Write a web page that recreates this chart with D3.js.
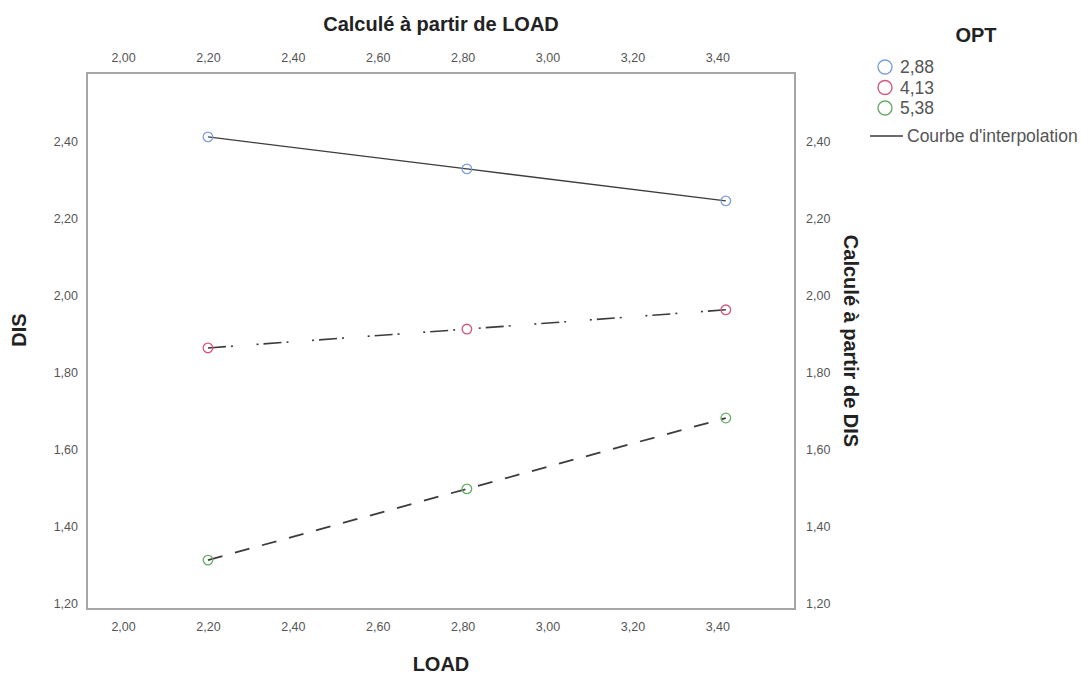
<!DOCTYPE html>
<html lang="en">
<head>
<meta charset="utf-8">
<title>DIS vs LOAD</title>
<script src="https://d3js.org/d3.v7.min.js"></script>
<style>
  body { margin: 0; background: #fff; }
  text { font-family: Arial, "Liberation Sans", sans-serif; }
  .tick text { font-size: 12.5px; fill: #555; font-family: Arial, "Liberation Sans", sans-serif; }
  .title { font-size: 20px; font-weight: bold; fill: #222; }
  .leg { font-size: 17.5px; fill: #555; }
</style>
</head>
<body>
<script>
// data
var loadValues = [2.20, 2.81, 3.42];
var optGroups = ["2,88", "4,13", "5,38"];
var disBlue = [2.413, 2.330, 2.247];
var disRed = [1.865, 1.914, 1.964];
var disGreen = [1.314, 1.499, 1.683];
var xTicks = [2.0, 2.2, 2.4, 2.6, 2.8, 3.0, 3.2, 3.4];
var yTicks = [1.2, 1.4, 1.6, 1.8, 2.0, 2.2, 2.4];

var series = [
  {name: optGroups[0], values: disBlue, color: "#7d9fdc", dash: null, sw: 1.4},
  {name: optGroups[1], values: disRed, color: "#d6567b", dash: "18,5,2,23.7,2,5", sw: 1.6},
  {name: optGroups[2], values: disGreen, color: "#66ad66", dash: "15,13", sw: 1.8}
];

var width = 1081, height = 675;
var pLeft = 87, pRight = 795, pTop = 73, pBottom = 609;

var svg = d3.select("body").append("svg")
  .attr("width", width).attr("height", height);

var x = d3.scaleLinear().domain([1.915, 3.583]).range([pLeft, pRight]);
var y = d3.scaleLinear().domain([1.187, 2.579]).range([pBottom, pTop]);

var fmt = function(d) { return d3.format(".2f")(d).replace(".", ","); };

function axisStyle(g) {
  g.select(".domain").remove();
  g.selectAll(".tick line").remove();
}

svg.append("g").attr("transform", "translate(0," + (pBottom + 10) + ")")
  .call(d3.axisBottom(x).tickValues(xTicks).tickFormat(fmt).tickSize(0))
  .call(axisStyle);
svg.append("g").attr("transform", "translate(0," + (pTop - 8) + ")")
  .call(d3.axisTop(x).tickValues(xTicks).tickFormat(fmt).tickSize(0))
  .call(axisStyle);
svg.append("g").attr("transform", "translate(" + (pLeft - 6) + ",0)")
  .call(d3.axisLeft(y).tickValues(yTicks).tickFormat(fmt).tickSize(0))
  .call(axisStyle);
svg.append("g").attr("transform", "translate(" + (pRight + 8) + ",0)")
  .call(d3.axisRight(y).tickValues(yTicks).tickFormat(fmt).tickSize(0))
  .call(axisStyle);

// frame
svg.append("rect")
  .attr("x", pLeft).attr("y", pTop)
  .attr("width", pRight - pLeft).attr("height", pBottom - pTop)
  .attr("fill", "none").attr("stroke", "#a6a6a6").attr("stroke-width", 2);

// lines
var line = d3.line()
  .x(function(d, i) { return x(loadValues[i]); })
  .y(function(d) { return y(d); });

series.forEach(function(s) {
  svg.append("path")
    .attr("d", line(s.values))
    .attr("fill", "none")
    .attr("stroke", "#3c3c3c")
    .attr("stroke-width", s.sw)
    .attr("stroke-dasharray", s.dash);
  svg.selectAll(null).data(s.values).enter().append("circle")
    .attr("cx", function(d, i) { return x(loadValues[i]); })
    .attr("cy", function(d) { return y(d); })
    .attr("r", 4.8)
    .attr("fill", "none")
    .attr("stroke", s.color)
    .attr("stroke-width", 1.3);
});

// axis titles
svg.append("text").attr("class", "title")
  .attr("x", 441).attr("y", 31).attr("text-anchor", "middle")
  .text("Calculé à partir de LOAD");
svg.append("text").attr("class", "title")
  .attr("x", 441).attr("y", 671).attr("text-anchor", "middle")
  .text("LOAD");
svg.append("text").attr("class", "title")
  .attr("transform", "translate(26,330) rotate(-90)")
  .attr("text-anchor", "middle")
  .text("DIS");
svg.append("text").attr("class", "title")
  .attr("transform", "translate(844,341) rotate(90)")
  .attr("text-anchor", "middle")
  .text("Calculé à partir de DIS");

// legend
var lg = svg.append("g");
lg.append("text").attr("class", "title")
  .attr("x", 976).attr("y", 42).attr("text-anchor", "middle")
  .text("OPT");
series.forEach(function(s, i) {
  var cy = 67 + i * 20.5;
  lg.append("circle").attr("cx", 885).attr("cy", cy).attr("r", 7)
    .attr("fill", "none").attr("stroke", s.color).attr("stroke-width", 1.4);
  lg.append("text").attr("class", "leg").attr("x", 900).attr("y", cy + 6)
    .text(s.name);
});
lg.append("line").attr("x1", 870).attr("x2", 903).attr("y1", 136).attr("y2", 136)
  .attr("stroke", "#3a3a3a").attr("stroke-width", 1.3);
lg.append("text").attr("class", "leg").attr("x", 907).attr("y", 142)
  .text("Courbe d'interpolation");
</script>
</body>
</html>
